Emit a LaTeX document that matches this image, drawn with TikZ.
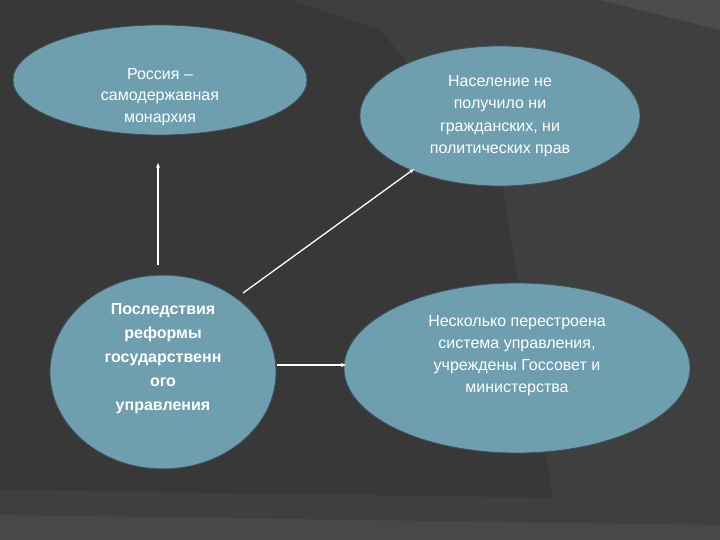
\documentclass[tikz,border=0pt]{standalone}
\usepackage{fontspec}
\setmainfont{Liberation Sans}
\definecolor{bg}{HTML}{383838}
\definecolor{stripe}{HTML}{3F3F3F}
\definecolor{ell}{HTML}{6F9EAE}
\definecolor{edge}{HTML}{3E5560}
\tikzset{
  bub/.style={ellipse, fill=ell, draw=edge, line width=0.8pt, text=white, align=center, inner sep=0pt, font=\fontsize{16}{22.5}\selectfont},
  conn/.style={draw=white, line width=1.3pt, -{Stealth[length=5pt,width=4pt]}}
}
\usetikzlibrary{shapes.geometric,arrows.meta}
\begin{document}
\begin{tikzpicture}[x=1pt,y=-1pt]
\fill[bg] (0,0) rectangle (720,540);
\useasboundingbox (0,0) rectangle (720,540);
\fill[stripe] (290,0) -- (600,0) -- (720,30) -- (720,540) -- (560,540) -- (500,170) -- (380,30) -- cycle;
\fill[bg!90!white] (600,0) -- (720,0) -- (720,30) -- cycle;
\fill[stripe] (0,490) -- (720,500) -- (720,540) -- (0,540) -- cycle;
\fill[bg!92!white] (0,515) -- (720,525) -- (720,540) -- (0,540) -- cycle;
\node[bub, minimum width=294, minimum height=110] (a) at (160,80) {};
\node[text=white, align=center, font=\fontsize{16}{21.5}\selectfont] (at) at (160,97) {Россия –\\самодержавная\\монархия};
\node[bub, minimum width=280, minimum height=140] (b) at (500,116) {Население не\\получило ни\\гражданских, ни\\политических прав};
\node[bub, minimum width=226, minimum height=186, font=\fontsize{16}{24}\selectfont\bfseries] (c) at (163,372) {Последствия\\реформы\\государственн\\ого\\управления\\[6pt]};
\node[bub, minimum width=346, minimum height=170, font=\fontsize{16}{22}\selectfont] (d) at (517,368) {Несколько перестроена\\система управления,\\учреждены Госсовет и\\министерства\\[6pt]};
\coordinate (s1) at (158,265); \coordinate (e1) at (158,163);
\coordinate (s2) at (243,293); \coordinate (e2) at (414,169);
\coordinate (s3) at (277,365); \coordinate (e3) at (346,365);
\draw[conn] (s1) -- (e1);
\draw[conn] (s2) -- (e2);
\draw[conn] (s3) -- (e3);
\end{tikzpicture}
\end{document}
